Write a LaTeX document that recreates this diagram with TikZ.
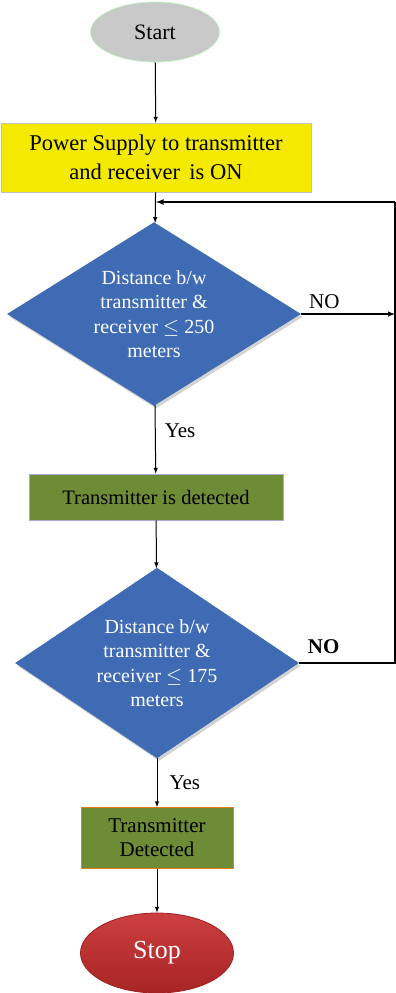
\documentclass[tikz,border=0pt]{standalone}
\usepackage{xcolor}
\usepackage{tikz}
\usepackage{fontspec}
\setmainfont{Liberation Serif}
\usetikzlibrary{positioning,shapes,shadows,arrows}

\definecolor{startgray}{HTML}{C9C9C9}
\definecolor{boxyellow}{HTML}{F3EA00}
\definecolor{deciblue}{HTML}{3E6BB4}
\definecolor{detgreen}{HTML}{6E8B36}
\definecolor{stopred}{HTML}{C62A2B}

\begin{document}
\begin{tikzpicture}[x=1pt, y=-1pt,
        every node/.style = {align=center, inner sep=0pt},
        term/.style = {shape=ellipse, draw, line width=0.8pt},
        decide/.style = {shape=diamond, aspect=1.6, fill=deciblue, draw=deciblue, text=white,
        drop shadow={opacity=0.35, shadow xshift=2pt, shadow yshift=-3pt},
        font=\fontsize{20}{24.5}\selectfont},
        act/.style = {shape=rectangle, draw, line width=0.8pt},
        arr/.style = {-latex, line width=1pt},
        back/.style = {line width=1.6pt},
        lbl/.style = {font=\fontsize{21}{24}\selectfont}]
    \useasboundingbox (0,0) rectangle (396,993);
        \node[term, fill=startgray, draw=gray!40!green!30,
            minimum width=129pt, minimum height=60pt,
            font=\fontsize{22}{26}\selectfont] (start) at (155,32) {Start};
        \node[act, fill=boxyellow, draw=gray!50,
            minimum width=310pt, minimum height=69pt,
            font=\fontsize{22.5}{29}\selectfont] (power) at (156,157.5)
            {Power Supply to transmitter\\and receiver\, is ON};
        \node[decide, minimum width=293pt, minimum height=183pt] (dist1) at (154,314)
            {Distance b/w\\transmitter \&\\receiver $\leq$ 250\\meters};
        \node[act, fill=detgreen, draw=blue!30!gray!50,
            minimum width=254pt, minimum height=46pt,
            font=\fontsize{20.5}{23}\selectfont] (det1) at (156,497) {Transmitter is detected};
        \node[decide, minimum width=283pt, minimum height=190pt] (dist2) at (157,663)
            {Distance b/w\\transmitter \&\\receiver $\leq$ 175\\meters};
        \node[act, fill=detgreen, draw=orange!60!brown,
            minimum width=152pt, minimum height=61pt,
            font=\fontsize{21}{24}\selectfont] (det2) at (157,838) {Transmitter\\Detected};
        \node[term, draw=stopred!80!black, top color=stopred!90!white, bottom color=stopred!85!black,
            text=white, minimum width=153pt, minimum height=80pt,
            font=\fontsize{26}{30}\selectfont] (stop) at (157,953) {Stop};

        \coordinate (rbot) at (395,663);
        \coordinate (rtop) at (395,202);
        \coordinate (join) at (rtop -| power.south);

        \draw[arr] (start) -- (power);
        \draw[arr] (power) -- (dist1);
        \draw[arr] (dist1) -- node[lbl, pos=0.38, right=9pt] {Yes} (det1);
        \draw[arr] (det1) -- (dist2);
        \draw[arr] (dist2) -- node[lbl, right=12pt] {Yes} (det2);
        \draw[arr] (det2) -- (stop);
        \draw[arr, line width=1.4pt] (dist1.east) -- node[lbl, pos=0.25, above=5pt] {NO} (dist1.east -| rtop);
        \draw[back] (dist2.east) -- node[lbl, pos=0.26, above=9pt] {\textbf{NO}} (rbot) -- (rtop);
        \draw[back, -latex] (rtop) -- (join);
\end{tikzpicture}
\end{document}
